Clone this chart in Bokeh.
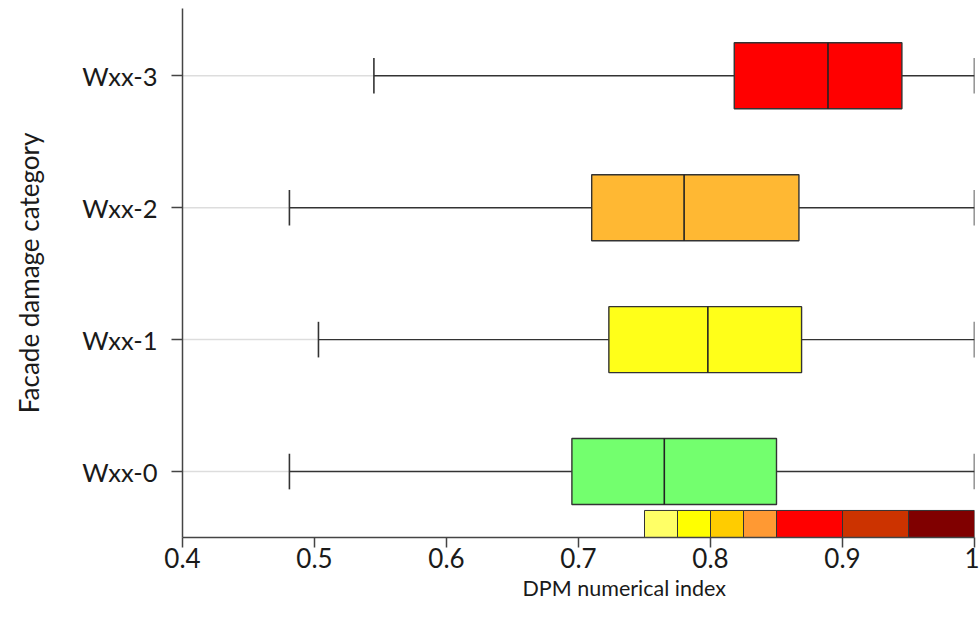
from bokeh.plotting import figure
from bokeh.models import FixedTicker, ColumnDataSource, Title
from bokeh.embed import file_html
from bokeh.resources import INLINE

# Data
categories = ["Wxx-0", "Wxx-1", "Wxx-2", "Wxx-3"]
lower = [0.481, 0.503, 0.481, 0.545]
q1 = [0.695, 0.723, 0.710, 0.818]
median = [0.765, 0.798, 0.780, 0.889]
q3 = [0.850, 0.869, 0.867, 0.945]
upper = [1.0, 1.0, 1.0, 1.0]
box_colors = ["#73FF6E", "#FFFF19", "#FFB833", "#FF0000"]

scale_edges = [0.75, 0.775, 0.8, 0.825, 0.85, 0.9, 0.95, 1.0]
scale_colors = ["#FFFF66", "#FFFF00", "#FFCC00", "#FF9933", "#FF0000", "#CC3300", "#800000"]

x_ticks = [0.4, 0.5, 0.6, 0.7, 0.8, 0.9, 1.0]
x_tick_labels = ["0.4", "0.5", "0.6", "0.7", "0.8", "0.9", "1"]
x_title = "DPM numerical index"
y_title = "Facade damage category"

FONT = "Lato"
TXT = "#1a1a1a"
EDGE = "#333333"

pos = list(range(len(categories)))
box_h = 0.5
cap_h = 0.27

p = figure(width=979, height=630, output_backend="svg", toolbar_location=None,
           x_range=(0.4, 1.0), y_range=(-0.5, 3.51),
           min_border_left=182, min_border_right=5, min_border_top=8, min_border_bottom=93)
p.outline_line_color = None
p.xgrid.visible = False
p.ygrid.visible = False
p.background_fill_color = "white"

src = ColumnDataSource(dict(y=pos, lower=lower, q1=q1, median=median, q3=q3, upper=upper,
                            color=box_colors, x0=[x_ticks[0]] * len(pos),
                            ylo=[v - box_h / 2 for v in pos], yhi=[v + box_h / 2 for v in pos],
                            clo=[v - cap_h / 2 for v in pos], chi=[v + cap_h / 2 for v in pos]))

# light grey guide from axis to lower whisker
p.segment(x0="x0", y0="y", x1="lower", y1="y", source=src, line_color="#DDDDDD", line_width=1.5)
# whiskers
p.segment(x0="lower", y0="y", x1="q1", y1="y", source=src, line_color=EDGE, line_width=1.4)
p.segment(x0="q3", y0="y", x1="upper", y1="y", source=src, line_color=EDGE, line_width=1.4)
# caps
p.segment(x0="lower", y0="clo", x1="lower", y1="chi", source=src, line_color=EDGE, line_width=1.6)
p.segment(x0="upper", y0="clo", x1="upper", y1="chi", source=src, line_color=EDGE, line_width=1.6)
# boxes
p.quad(left="q1", right="q3", bottom="ylo", top="yhi", source=src, fill_color="color",
       line_color=EDGE, line_width=1.4)
p.segment(x0="median", y0="ylo", x1="median", y1="yhi", source=src, line_color="#222222", line_width=1.6)

# colour scale strip
strip = ColumnDataSource(dict(left=scale_edges[:-1], right=scale_edges[1:],
                              bottom=[-0.5] * len(scale_colors), top=[-0.295] * len(scale_colors),
                              color=scale_colors))
p.quad(left="left", right="right", bottom="bottom", top="top", source=strip,
       fill_color="color", line_color=EDGE, line_width=1)

# axes
p.xaxis.ticker = FixedTicker(ticks=x_ticks)
p.xaxis.major_label_overrides = {t: l for t, l in zip(x_ticks, x_tick_labels)}
p.yaxis.ticker = FixedTicker(ticks=pos)
p.yaxis.major_label_overrides = {i: c for i, c in zip(pos, categories)}
p.yaxis.axis_label = y_title

for ax in (p.xaxis[0], p.yaxis[0]):
    ax.axis_line_color = "#444444"
    ax.axis_line_width = 1.5
    ax.major_tick_line_color = "#444444"
    ax.major_tick_line_width = 1.5
    ax.major_tick_out = 11
    ax.major_tick_in = 0
    ax.minor_tick_line_color = None
    ax.major_label_text_font = FONT
    ax.major_label_text_color = TXT
    ax.axis_label_text_font = FONT
    ax.axis_label_text_font_size = "26px"
    ax.axis_label_text_font_style = "normal"
    ax.axis_label_text_color = TXT

p.xaxis.major_label_text_font_size = "26px"
p.yaxis.major_label_text_font_size = "25.5px"
p.xaxis.major_tick_out = 10
p.xaxis.major_label_standoff = 0
p.yaxis.major_label_standoff = 14
p.yaxis.axis_label_standoff = 34
p.yaxis.major_label_orientation = "horizontal"

# x axis title (offset to the right as in the reference)
p.add_layout(Title(text=x_title, align="left", offset=340, text_font=FONT,
                   text_font_size="21.5px", text_font_style="normal", text_color=TXT,
                   standoff=4), "below")

open("out.html", "w").write(file_html(p, INLINE))
